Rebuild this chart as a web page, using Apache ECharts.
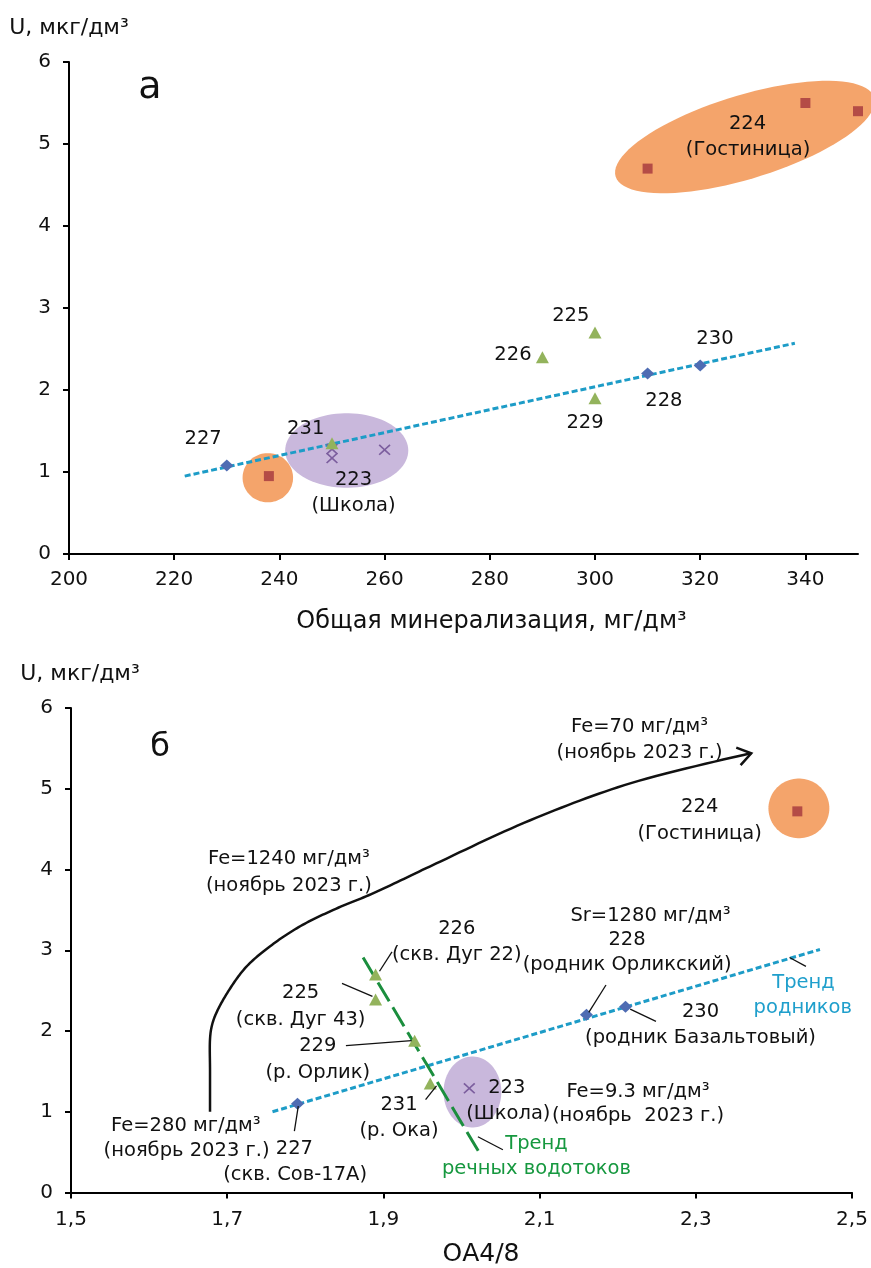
<!DOCTYPE html>
<html><head><meta charset="utf-8">
<script src="https://cdn.jsdelivr.net/npm/echarts@6.0.0/dist/echarts.min.js"></script>
<style>html,body{margin:0;padding:0;background:#fff}#c{width:871px;height:1268px}</style>
</head><body><div id="c"></div>
<script>
// ===== Panel "а": U vs total mineralization =====
const aXTicks = [200, 220, 240, 260, 280, 300, 320, 340];
const aSprings = [[230, 1.08], [310, 2.2], [320, 2.3]];            // blue diamonds
const aRivers = [[290, 2.4], [300, 2.7], [300, 1.9], [250, 1.35]];  // green triangles
const aSchool = [[250, 1.28], [250, 1.17], [260, 1.27]];            // purple crosses
const aHotel = [[238, 0.95], [310, 4.7], [340, 5.5], [350, 5.4]];  // red squares
const aTrend = [[222, 0.95], [338, 2.57]];
// blobs: centre x, centre y, half-width (x units), half-height (y units), tilt deg
const aBlobs = [[328.5, 5.085, 25.7, 0.51, 17], [237.8, 0.93, 4.8, 0.30, 0], [252.8, 1.262, 11.7, 0.455, 0]];
const aLabels = [
  [215.4, 5.68, 'а'],
  [329.0, 5.25, '224'], [329.1, 4.93, '(Гостиница)'],
  [295.4, 2.90, '225'], [284.4, 2.43, '226'], [322.8, 2.62, '230'],
  [313.1, 1.87, '228'], [298.1, 1.60, '229'], [225.5, 1.40, '227'],
  [245.0, 1.52, '231'], [254.1, 0.90, '223'], [254.1, 0.585, '(Школа)']
];

// ===== Panel "б": U vs OA4/8 =====
const bSprings = [[1.79, 1.10], [2.16, 2.20], [2.21, 2.30]];
const bRivers = [[1.89, 2.70], [1.89, 2.39], [1.94, 1.88], [1.96, 1.35]];
const bSchool = [[2.01, 1.29]];
const bHotel = [[2.43, 4.72]];
const bSpringTrend = [[1.758, 1.0], [2.459, 3.01]];
const bRiverTrend = [[1.874, 2.91], [2.023, 0.49]];
const bFeCurve = [[1.678, 1.0], [1.678, 1.5], [1.678, 1.9], [1.680, 2.05], [1.685, 2.2], [1.700, 2.47], [1.724, 2.79],
  [1.755, 3.05], [1.794, 3.30], [1.836, 3.50], [1.888, 3.71], [1.960, 4.04], [2.088, 4.61], [2.217, 5.07], [2.371, 5.44]];
const bBlobs = [[2.432, 4.757, 0.039, 0.37, 0], [2.014, 1.245, 0.037, 0.44, 0]];
const bLeaders = [
  [1.895, 2.74, 1.911, 2.98], [1.847, 2.59, 1.886, 2.43], [1.852, 1.82, 1.936, 1.88],
  [1.954, 1.15, 1.968, 1.32], [1.791, 1.07, 1.786, 0.76], [2.163, 2.23, 2.185, 2.57],
  [2.216, 2.27, 2.249, 2.12], [2.021, 0.69, 2.053, 0.53], [2.420, 2.91, 2.441, 2.80]
];
const bLabels = [
  [1.614, 5.51, 'б'],
  [2.228, 5.76, 'Fe=70 мг/дм³'], [2.228, 5.44, '(ноябрь 2023 г.)'],
  [2.305, 4.77, '224'], [2.305, 4.44, '(Гостиница)'],
  [1.779, 4.13, 'Fe=1240 мг/дм³'], [1.779, 3.80, '(ноябрь 2023 г.)'],
  [2.242, 3.42, 'Sr=1280 мг/дм³'], [2.212, 3.13, '228'], [2.212, 2.82, '(родник Орликский)'],
  [1.994, 3.27, '226'], [1.994, 2.94, '(скв. Дуг 22)'],
  [1.794, 2.47, '225'], [1.794, 2.14, '(скв. Дуг 43)'],
  [1.816, 1.81, '229'], [1.816, 1.48, '(р. Орлик)'],
  [1.920, 1.09, '231'], [1.920, 0.76, '(р. Ока)'],
  [2.058, 1.30, '223'], [2.060, 0.97, '(Школа)'],
  [2.226, 1.25, 'Fe=9.3 мг/дм³'], [2.226, 0.95, '(ноябрь  2023 г.)'],
  [2.306, 2.24, '230'], [2.306, 1.91, '(родник Базальтовый)'],
  [1.647, 0.82, 'Fe=280 мг/дм³'], [1.648, 0.51, '(ноябрь 2023 г.)'],
  [1.786, 0.54, '227'], [1.787, 0.22, '(скв. Сов-17А)']
];
const bLabelsCyan = [[2.438, 2.59, 'Тренд'], [2.437, 2.28, 'родников']];
const bLabelsGreen = [[2.096, 0.60, 'Тренд'], [2.096, 0.29, 'речных водотоков']];

// ===== styling =====
const FONT = 'DejaVu Sans';
const TXT = '#111';
const C_DIAMOND = '#4f6cb3', C_TRI = '#93b35c', C_SQ = '#b44c46', C_X = '#7c5e9e';
const C_ORANGE = '#f4a46b', C_PURPLE = '#c9b8dc', C_CYAN = '#1d9cc7', C_GREEN = '#1b8e3e';
const X_PATH = 'path://M0,1L1,0L5,4L9,0L10,1L6,5L10,9L9,10L5,6L1,10L0,9L4,5Z';
const ANN = 19.5;

function blobSeries(i, blobs, colors) {
  return {
    type: 'custom', xAxisIndex: i, yAxisIndex: i, z: 1, silent: true, clip: false,
    data: blobs,
    renderItem(params, api) {
      const c = api.coord([api.value(0), api.value(1)]);
      const s = api.size([api.value(2), api.value(3)]);
      const a = api.value(4) * Math.PI / 180;
      const pts = [];
      for (let k = 0; k < 90; k++) {
        const t = k / 90 * Math.PI * 2;
        const u = s[0] * Math.cos(t), v = s[1] * Math.sin(t);
        pts.push([c[0] + u * Math.cos(a) + v * Math.sin(a), c[1] - u * Math.sin(a) + v * Math.cos(a)]);
      }
      return { type: 'polygon', shape: { points: pts }, style: { fill: colors[params.dataIndex] } };
    }
  };
}
function scatter(i, data, symbol, size, color, z) {
  return { type: 'scatter', xAxisIndex: i, yAxisIndex: i, data, symbol, symbolSize: size, z: z || 5,
    itemStyle: { color, opacity: 1 }, silent: true };
}
function labelSeries(i, list, color, size) {
  return {
    type: 'scatter', xAxisIndex: i, yAxisIndex: i, symbolSize: 0, z: 8, silent: true,
    itemStyle: { opacity: 1 },
    data: list.map(l => ({ value: [l[0], l[1]], name: l[2] })),
    label: { show: true, position: 'inside', formatter: '{b}', color, opacity: 1, fontFamily: FONT, fontSize: size,
      align: 'center', verticalAlign: 'middle' },
    labelLayout: { hideOverlap: false }
  };
}
function trend(i, data, color, dash, width) {
  return { type: 'line', xAxisIndex: i, yAxisIndex: i, data, symbol: 'none', z: 4, silent: true,
    lineStyle: { color, width, type: dash, cap: 'butt', opacity: 1 } };
}
function yAxis(i, padLeft) {
  return {
    type: 'value', gridIndex: i, min: 0, max: 6, interval: 1,
    name: 'U, мкг/дм³', nameLocation: 'end', nameGap: 34,
    nameTextStyle: { fontFamily: FONT, fontSize: 22, color: TXT, align: 'center', verticalAlign: 'middle', padding: [0, 0, 0, padLeft] },
    axisLine: { show: true, lineStyle: { color: '#000', width: 2 } },
    axisTick: { show: true, length: 6, lineStyle: { color: '#000', width: 2 } },
    axisLabel: { fontFamily: FONT, fontSize: 20, color: TXT, margin: 18 },
    splitLine: { show: false }
  };
}
// centripetal Catmull-Rom through pixel points (first point used only as a tangent guide)
function catmull(pts, steps) {
  const out = [];
  const P = pts.concat([pts[pts.length - 1]]);
  for (let i = 1; i < P.length - 2; i++) {
    const p0 = P[i - 1], p1 = P[i], p2 = P[i + 1], p3 = P[i + 2];
    const d = (a, b) => Math.pow(Math.hypot(b[0] - a[0], b[1] - a[1]) || 1e-6, 0.5);
    const t0 = 0, t1 = t0 + d(p0, p1), t2 = t1 + d(p1, p2), t3 = t2 + d(p2, p3);
    for (let s = 0; s < steps; s++) {
      const t = t1 + (t2 - t1) * s / steps;
      const lerp = (a, b, ta, tb) => [(tb - t) / (tb - ta) * a[0] + (t - ta) / (tb - ta) * b[0], (tb - t) / (tb - ta) * a[1] + (t - ta) / (tb - ta) * b[1]];
      const A1 = lerp(p0, p1, t0, t1), A2 = lerp(p1, p2, t1, t2), A3 = lerp(p2, p3, t2, t3);
      const B1 = lerp(A1, A2, t0, t2), B2 = lerp(A2, A3, t1, t3);
      out.push(lerp(B1, B2, t1, t2));
    }
  }
  out.push(pts[pts.length - 1]);
  return out;
}

const option = {
  animation: false,
  backgroundColor: '#fff',
  grid: [
    { left: 69, top: 62, width: 789, height: 492 },
    { left: 71, top: 708, width: 781, height: 485 }
  ],
  xAxis: [
    {
      type: 'value', gridIndex: 0, min: 200, max: 350, interval: 20,
      name: 'Общая минерализация, мг/дм³', nameLocation: 'middle', nameGap: 68,
      nameTextStyle: { fontFamily: FONT, fontSize: 24, color: TXT, verticalAlign: 'middle', padding: [0, 0, 0, 56] },
      axisLine: { show: true, onZero: false, lineStyle: { color: '#000', width: 2 } },
      axisTick: { show: true, length: 6, customValues: aXTicks, lineStyle: { color: '#000', width: 2 } },
      axisLabel: { fontFamily: FONT, fontSize: 20, color: TXT, margin: 16, customValues: aXTicks },
      splitLine: { show: false }
    },
    {
      type: 'value', gridIndex: 1, min: 1.5, max: 2.5, interval: 0.2,
      name: 'ОА4/8', nameLocation: 'middle', nameGap: 62,
      nameTextStyle: { fontFamily: FONT, fontSize: 25, color: TXT, verticalAlign: 'middle', padding: [0, 0, 0, 39] },
      axisLine: { show: true, onZero: false, lineStyle: { color: '#000', width: 2 } },
      axisTick: { show: true, length: 6, lineStyle: { color: '#000', width: 2 } },
      axisLabel: { fontFamily: FONT, fontSize: 20, color: TXT, margin: 17,
        formatter: v => v.toFixed(1).replace('.', ',') },
      splitLine: { show: false }
    }
  ],
  yAxis: [yAxis(0, 0), yAxis(1, 18)],
  series: [
    // panel а
    blobSeries(0, aBlobs, [C_ORANGE, C_ORANGE, C_PURPLE]),
    trend(0, aTrend, C_CYAN, [6, 3], 3),
    scatter(0, aSchool, X_PATH, [12, 11], C_X, 5),
    scatter(0, aHotel, 'rect', 10, C_SQ, 5),
    scatter(0, aSprings, 'diamond', [13, 12], C_DIAMOND, 6),
    scatter(0, aRivers, 'triangle', [13, 12], C_TRI, 6),
    labelSeries(0, aLabels.slice(0, 1), TXT, 38),
    labelSeries(0, aLabels.slice(1), TXT, ANN),
    // panel б
    blobSeries(1, bBlobs, [C_ORANGE, C_PURPLE]),
    trend(1, bSpringTrend, C_CYAN, [6, 3], 3),
    trend(1, bRiverTrend, C_GREEN, [22, 7], 3),
    {
      type: 'custom', xAxisIndex: 1, yAxisIndex: 1, z: 4, silent: true, clip: false,
      data: bFeCurve,
      renderItem(params, api) {
        if (params.dataIndex !== bFeCurve.length - 1) return null;
        const px = bFeCurve.map(p => api.coord(p));
        const curve = [px[0]].concat(catmull(px, 16));
        const p0 = px[px.length - 2], p1 = px[px.length - 1];
        const ang = Math.atan2(p1[1] - p0[1], p1[0] - p0[0]);
        const L = 16, spread = 0.6;
        const a1 = [p1[0] - L * Math.cos(ang - spread), p1[1] - L * Math.sin(ang - spread)];
        const a2 = [p1[0] - L * Math.cos(ang + spread), p1[1] - L * Math.sin(ang + spread)];
        return {
          type: 'group', children: [
            { type: 'polyline', shape: { points: curve }, style: { stroke: '#111', lineWidth: 2.5, fill: null } },
            { type: 'polyline', shape: { points: [a1, p1, a2] }, style: { stroke: '#111', lineWidth: 2.5, fill: null } }
          ]
        };
      }
    },
    {
      type: 'custom', xAxisIndex: 1, yAxisIndex: 1, z: 7, silent: true, clip: false,
      data: bLeaders, encode: { x: [0, 2], y: [1, 3] },
      renderItem(params, api) {
        const p0 = api.coord([api.value(0), api.value(1)]);
        const p1 = api.coord([api.value(2), api.value(3)]);
        return { type: 'line', shape: { x1: p0[0], y1: p0[1], x2: p1[0], y2: p1[1] }, style: { stroke: '#111', lineWidth: 1.3 } };
      }
    },
    scatter(1, bSchool, X_PATH, [12, 11], C_X, 5),
    scatter(1, bHotel, 'rect', 10, C_SQ, 5),
    scatter(1, bSprings, 'diamond', [13, 12], C_DIAMOND, 6),
    scatter(1, bRivers, 'triangle', [13, 12], C_TRI, 6),
    labelSeries(1, bLabels.slice(0, 1), TXT, 32),
    labelSeries(1, bLabels.slice(1), TXT, ANN),
    labelSeries(1, bLabelsCyan, '#1f9fcc', ANN),
    labelSeries(1, bLabelsGreen, '#16983f', ANN)
  ]
};
echarts.init(document.getElementById('c'), null, { renderer: 'canvas' }).setOption(option);
</script></body></html>
